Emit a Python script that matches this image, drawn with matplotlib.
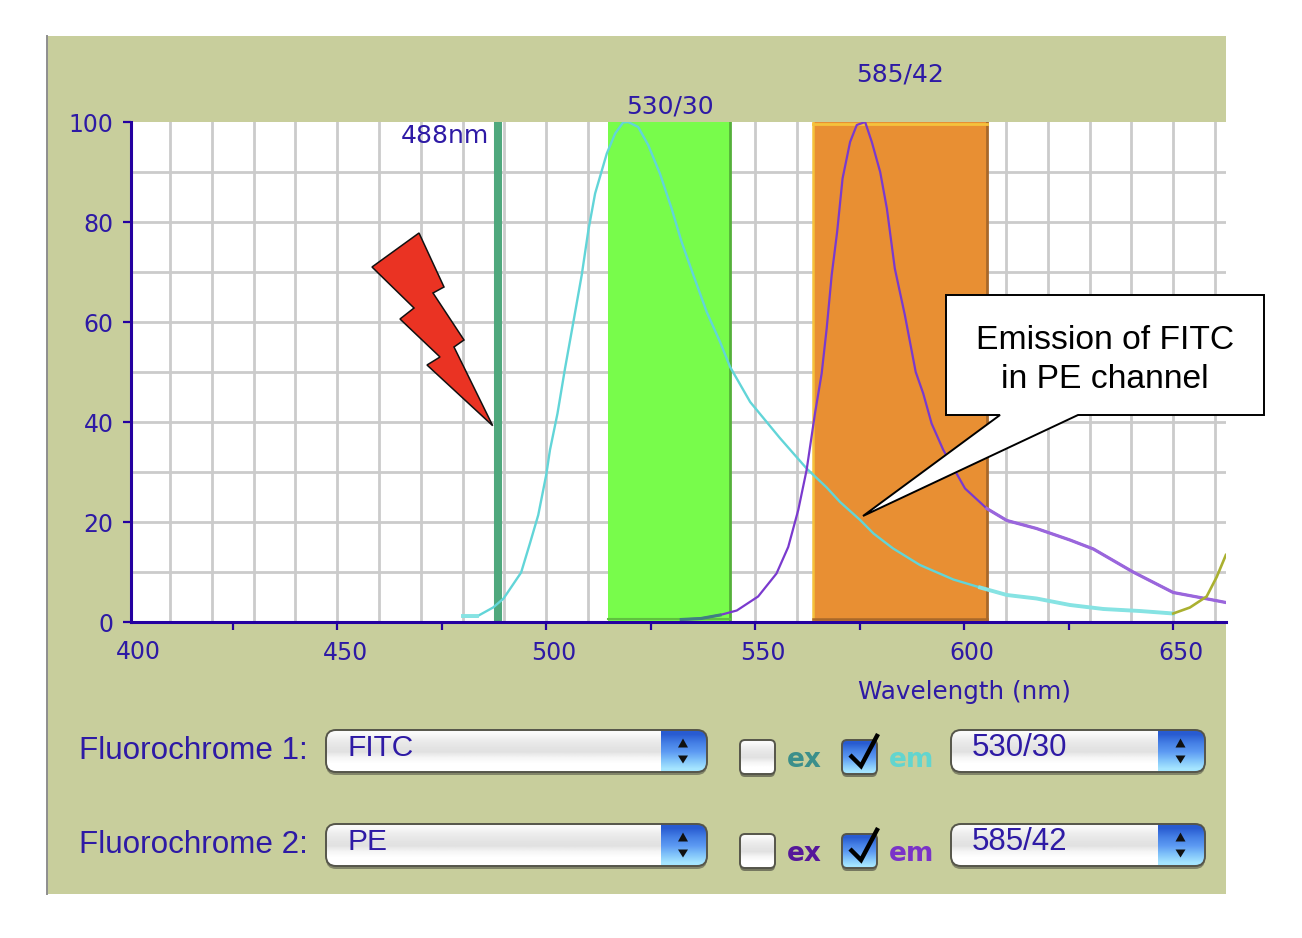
import numpy as np
import matplotlib
matplotlib.use('Agg')
import matplotlib.pyplot as plt
from matplotlib.patches import FancyBboxPatch, Polygon, Rectangle
from matplotlib.transforms import ScaledTranslation

# ---- data ----
fitc_nm = [480.2, 483.4, 487.3, 489.8, 494, 496.1, 498.1, 500, 500.9, 502.7, 504.5, 506.5, 508.5, 510.1, 511.7,
           514.5, 516.5, 518.4, 519.6, 522, 524.4, 527.2, 530, 532.4, 535.2, 538.4, 541.6, 544, 548.8, 555.9,
           562.3, 567.1, 570.3, 575.1, 578.3, 583, 589.4, 597.4, 603.8, 610.2, 617.3, 625.3, 633.3, 642, 650]
fitc_em = [1.1, 1.1, 2.9, 4.7, 9.9, 15.7, 21.4, 29.4, 34.4, 41.7, 50.7, 60, 69.4, 78.4, 85.7,
           93.7, 97.7, 99.9, 100, 99, 95.4, 89.7, 82.7, 76, 69.4, 62, 56, 51, 44, 36.8,
           30.7, 26.9, 24, 20.4, 17.7, 14.7, 11.4, 8.5, 6.9, 5.4, 4.7, 3.4, 2.6, 2.2, 1.7]
pe_nm = [532.3, 537, 541.6, 545.6, 550.7, 555.1, 557.9, 560.3, 562.3, 564.3, 565.9, 567.1, 568.3, 569.6, 570.9,
         572.7, 574.3, 576.3, 577.9, 579.9, 581.5, 583.4, 585.8, 588.4, 590.2, 592.2, 595, 600.2, 605.4,
         610.2, 617.3, 625.3, 630.9, 640.4, 650, 656.4, 662.6]
pe_em = [0.5, 0.7, 1.4, 2.3, 5.1, 9.7, 15, 22.4, 30.4, 41.7, 49.7, 58.7, 69.4, 78, 88.7,
         96, 99.4, 100, 96, 90, 82.7, 70.7, 61.4, 50, 45.7, 39.7, 34.4, 26.7, 22.7,
         20.3, 18.7, 16.4, 14.6, 10, 5.9, 4.9, 3.9]
olive_nm = [650, 654, 658, 660.4, 662.6]
olive_ex = [1.7, 2.9, 5.1, 9, 13.4]
laser_nm = 488.35
band_530 = [514.9, 544]
band_585 = [563.9, 605.4]
x_ticks = [425, 450, 475, 500, 525, 550, 575, 600, 625, 650]
x_labels = ['', '450', '', '500', '', '550', '', '600', '', '650']
y_ticks = [0, 20, 40, 60, 80, 100]
x_grid = list(range(410, 661, 10))
y_grid = list(range(10, 100, 10))
rows = [('Fluorochrome 1:', 'FITC', '530/30', '#3B8F8B', '#62D5CF'),
        ('Fluorochrome 2:', 'PE', '585/42', '#56179A', '#7A33C8')]

W, H = 1302, 938
PANEL = '#C8CE9C'
NAVY = '#2400A0'
TXT = '#2E1AA5'
SANS = 'Liberation Sans'

fig = plt.figure(figsize=(W / 100, H / 100), dpi=100, facecolor='white')

def box(l, t, r, b):
    return [l / W, 1 - b / H, (r - l) / W, (b - t) / H]

bg = fig.add_axes([0, 0, 1, 1], zorder=0)
bg.set_xlim(0, W); bg.set_ylim(H, 0); bg.axis('off')
bg.add_patch(Rectangle((47, 36), 1179, 858, fc=PANEL, ec='none'))
bg.plot([47, 47], [36, 894], color='#8E8E8E', lw=1.4)

# ---- chart ----
x_left = 400 + (131 - 128.2) / 4.18
x_right = 400 + (1226 - 128.2) / 4.18
ax = fig.add_axes(box(131, 122, 1226, 622), zorder=1)
ax.set_facecolor('white')
for g in x_grid:
    ax.axvline(g, color='#CBCBCB', lw=2, zorder=1)
for g in y_grid:
    ax.axhline(g, color='#CBCBCB', lw=2, zorder=1)

ax.axvspan(band_530[0], band_530[1], color='#78FC4B', lw=0, zorder=2)
ax.axvline(band_530[1], color='#55B03A', lw=2, zorder=2.1)
ax.plot(band_530, [0.5, 0.5], color='#5FC040', lw=1.5, zorder=2.1)
ax.axvspan(band_585[0], band_585[1], color='#E88F33', lw=0, zorder=2)
ax.axvline(band_585[0], color='#F5C23C', lw=1.8, zorder=2.1)
ax.axvline(band_585[1], color='#A8682A', lw=2, zorder=2.1)
ax.plot(band_585, [0.6, 0.6], color='#A8682A', lw=1.8, zorder=2.1)
ax.plot(band_585, [99.6, 99.6], color='#F5C23C', lw=2, zorder=2.1)
ax.axvline(laser_nm, color='#4FA87D', lw=5.8, zorder=3)

fx, fy = np.array(fitc_nm), np.array(fitc_em)
px, py = np.array(pe_nm), np.array(pe_em)
ax.plot(fx, fy, color='#62D5D8', lw=1.7, zorder=4, solid_joinstyle='round')
ax.plot(fx[fx >= 603], fy[fx >= 603], color='#86E3E3', lw=2.8, zorder=4)
ax.plot(fx[fx <= 484], fy[fx <= 484], color='#86E3E3', lw=2.8, zorder=4)
ax.plot(px, py, color='#7A3ACE', lw=1.6, zorder=4.2)
ax.plot(px[px >= 605], py[px >= 605], color='#9A66DC', lw=2.3, zorder=4.2)
ax.plot(px[px <= 541.6], py[px <= 541.6], color='#3F7F82', lw=2.2, zorder=4.2)
ax.plot(olive_nm, olive_ex, color='#AAB030', lw=1.9, zorder=4.3)

for s in ['top', 'right']:
    ax.spines[s].set_visible(False)
for s in ['left', 'bottom']:
    ax.spines[s].set_color(NAVY)
    ax.spines[s].set_linewidth(2.2)
    ax.spines[s].set_zorder(6)
ax.set_xticks(x_ticks, x_labels)
ax.set_yticks(y_ticks)
ax.set_xlim(x_left, x_right); ax.set_ylim(0, 100)
ax.tick_params(axis='both', direction='out', length=6, width=1.6, color=NAVY,
               labelcolor=TXT, labelsize=17, pad=8)
ax.tick_params(axis='y', pad=6.5)
shift = ScaledTranslation(8 / 100, 0, fig.dpi_scale_trans)
for lab in ax.get_xticklabels():
    lab.set_transform(lab.get_transform() + shift)

# ---- overlay in picture pixels ----
fg = fig.add_axes([0, 0, 1, 1], zorder=3)
fg.set_xlim(0, W); fg.set_ylim(H, 0); fg.axis('off'); fg.patch.set_alpha(0)

def label(x, y, s, **kw):
    kw.setdefault('color', TXT)
    kw.setdefault('fontsize', 18)
    kw.setdefault('va', 'center')
    fg.text(x, y, s, **kw)

label(138, 652, '400', ha='center', fontsize=17)
label(670, 106, '530/30', ha='center')
label(900, 75, '585/42', ha='center')
label(489, 136, '488nm', ha='right')
label(965, 692, 'Wavelength (nm)', ha='center', fontsize=17.7)

bolt = [(419, 233), (444, 287), (433, 293), (464, 340), (454, 347), (492.7, 425.7),
        (427, 365), (440, 357), (400, 319), (414, 308), (372, 267)]
fg.add_patch(Polygon(bolt, closed=True, fc='#EA3323', ec='#111111', lw=1.1, zorder=5))

# callout
call = [(946, 295), (1264, 295), (1264, 415), (1078, 415), (863, 516), (1000, 415), (946, 415)]
fg.add_patch(Polygon(call, closed=True, fc='white', ec='black', lw=1.4, zorder=6))
fg.text(1105, 360, 'Emission of FITC\nin PE channel', family=SANS, fontsize=24.2,
        ha='center', va='center', color='black', linespacing=1.33, zorder=7)

white_grad = np.array([[0.98], [0.93], [0.90], [0.88], [0.96], [1.0], [1.0]])
blue_grad = np.array([[[0.16, 0.36, 0.82]], [[0.27, 0.50, 0.90]], [[0.36, 0.60, 0.95]],
                      [[0.50, 0.76, 0.98]], [[0.65, 0.90, 1.0]]])

def rounded(l, t, r, b, rad, z):
    return FancyBboxPatch((l + rad, t + rad), r - l - 2 * rad, b - t - 2 * rad,
                          boxstyle=f'round,pad={rad},rounding_size={rad}',
                          fc='none', ec='#55554A', lw=1.4, zorder=z)

def grad(img, extent, patch, z, **kw):
    im = fg.imshow(img, extent=extent, aspect='auto', zorder=z, interpolation='bilinear', **kw)
    im.set_clip_path(patch)

def dropdown(l, t, r, b, split, text, size):
    shadow = FancyBboxPatch((l + 10, t + 12), r - l - 20, b - t - 20,
                            boxstyle='round,pad=10,rounding_size=10',
                            fc='#4A4A40', ec='none', alpha=0.55, zorder=8)
    fg.add_patch(shadow)
    p = rounded(l, t, r, b - 1, 10, 11)
    fg.add_patch(p)
    grad(white_grad, (l, r, b, t), p, 9, cmap='gray', vmin=0, vmax=1)
    grad(blue_grad, (split, r, b, t), p, 10)
    cx = (split + r) / 2 - 1
    mid = (t + b) / 2
    fg.add_patch(Polygon([(cx - 5, mid - 4), (cx + 5, mid - 4), (cx, mid - 13)], fc='#111111', ec='none', zorder=12))
    fg.add_patch(Polygon([(cx - 5, mid + 4), (cx + 5, mid + 4), (cx, mid + 12)], fc='#111111', ec='none', zorder=12))
    fg.text(l + 21, t + 18, text, color=TXT, fontsize=size, family=SANS, va='center', zorder=12)

def checkbox(l, t, checked):
    r, b = l + 35, t + 35
    fg.add_patch(FancyBboxPatch((l + 5, t + 7), 25, 25, boxstyle='round,pad=5,rounding_size=5',
                                fc='#404038', ec='none', alpha=0.6, zorder=8))
    p = rounded(l, t, r, b - 1, 5, 11)
    fg.add_patch(p)
    if checked:
        grad(blue_grad, (l, r, b, t), p, 9)
        fg.plot([l + 8, l + 19, l + 36], [t + 15, t + 26, t - 6], color='black', lw=3.2, zorder=12,
                solid_joinstyle='miter', solid_capstyle='butt')
    else:
        grad(white_grad, (l, r, b, t), p, 9, cmap='gray', vmin=0, vmax=1)

for i, (name, fluor, filt, ex_c, em_c) in enumerate(rows):
    dy = 94 * i
    label(79, 751 + dy, name, fontsize=22.6, family=SANS, zorder=12)
    dropdown(326, 730 + dy, 707, 773 + dy, 661, fluor, 21.5)
    checkbox(740, 740 + dy, False)
    label(787, 760 + dy, 'ex', color=ex_c, fontsize=19, fontweight='bold', zorder=12)
    checkbox(842, 740 + dy, True)
    label(889, 760 + dy, 'em', color=em_c, fontsize=19, fontweight='bold', zorder=12)
    dropdown(951, 730 + dy, 1205, 773 + dy, 1158, filt, 22.5)

fg.set_xlim(0, W); fg.set_ylim(H, 0)
fig.savefig('out.png', dpi=100, facecolor='white')
